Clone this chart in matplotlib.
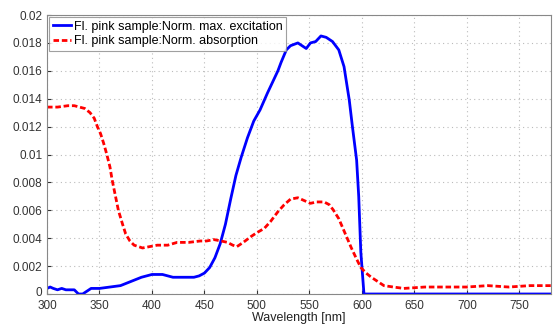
import matplotlib
matplotlib.use("Agg")
import matplotlib.pyplot as plt
import matplotlib.transforms as mtransforms
import numpy as np

plt.rcParams['font.family'] = ['Liberation Sans', 'DejaVu Sans']

# Excitation spectrum (wavelength in nm, normalised intensity)
exc_wl = [300, 303, 306, 310, 314, 318, 322, 326, 330, 334, 338, 342, 346, 350,
          360, 370, 380, 390, 400, 410, 420, 430, 440, 445, 450, 455, 460, 465,
          470, 475, 480, 485, 491, 497, 503, 510, 515, 520, 523, 528, 532, 539,
          547, 551, 556, 561, 566, 572, 578, 583, 588, 591, 595, 597, 599, 602,
          610, 650, 700, 750, 780]
exc_val = [0.0004, 0.0005, 0.0004, 0.0003, 0.0004, 0.0003, 0.0003, 0.0003, 0.0000,
           0.0000, 0.0002, 0.0004, 0.0004, 0.0004, 0.0005, 0.0006, 0.0009, 0.0012,
           0.0014, 0.0014, 0.0012, 0.0012, 0.0012, 0.0013, 0.0015, 0.0019, 0.0026,
           0.0036, 0.0050, 0.0068, 0.0085, 0.0098, 0.0112, 0.0124, 0.0132, 0.0144,
           0.0152, 0.0160, 0.0166, 0.0175, 0.0178, 0.0180, 0.0176, 0.0180, 0.0181,
           0.0185, 0.0184, 0.0181, 0.0175, 0.0163, 0.0139, 0.0120, 0.0096, 0.0070,
           0.0030, 0.0000, 0.0000, 0.0000, 0.0000, 0.0000, 0.0000]

# Absorption spectrum
abs_wl = [300, 310, 320, 326, 331, 336, 341, 345, 348, 351, 354, 357, 360, 362,
          365, 368, 372, 375, 379, 383, 387, 391, 398, 405, 415, 424, 435, 446,
          452, 459, 466, 472, 477, 481, 487, 494, 500, 507, 513, 520, 526, 532,
          539, 545, 551, 557, 564, 569, 573, 578, 582, 586, 590, 595, 599, 604,
          609, 615, 621, 630, 640, 660, 680, 700, 720, 740, 760, 780]
abs_val = [0.0134, 0.0134, 0.0135, 0.0135, 0.0134, 0.0133, 0.0130, 0.0126, 0.0120,
           0.0115, 0.0108, 0.0100, 0.0091, 0.0082, 0.0071, 0.0060, 0.0050, 0.0043,
           0.0038, 0.0035, 0.0034, 0.0033, 0.0034, 0.0035, 0.0035, 0.0037, 0.0037,
           0.0038, 0.0038, 0.0039, 0.0038, 0.0037, 0.0035, 0.0034, 0.0037, 0.0041,
           0.0044, 0.0047, 0.0052, 0.0059, 0.0064, 0.0068, 0.0069, 0.0067, 0.0065,
           0.0066, 0.0066, 0.0064, 0.0060, 0.0054, 0.0047, 0.0040, 0.0033, 0.0025,
           0.0019, 0.0015, 0.0012, 0.0009, 0.0006, 0.0005, 0.0004, 0.0005, 0.0005,
           0.0005, 0.0006, 0.0005, 0.0006, 0.0006]

x_ticks = [300, 350, 400, 450, 500, 550, 600, 650, 700, 750]
y_ticks = [0, 0.002, 0.004, 0.006, 0.008, 0.01, 0.012, 0.014, 0.016, 0.018, 0.02]
y_tick_labels = ['0', '0.002', '0.004', '0.006', '0.008', '0.01', '0.012',
                 '0.014', '0.016', '0.018', '0.02']

fig = plt.figure(figsize=(5.53, 3.24), dpi=100)
ax = fig.add_axes([0.085, 0.0926, 0.911, 0.861])

ax.plot(exc_wl, exc_val, color='#0000ff', lw=2.0,
        label='Fl. pink sample:Norm. max. excitation')
ax.plot(abs_wl, abs_val, color='#ff0000', lw=2.0, linestyle=(0, (2, 1)),
        label='Fl. pink sample:Norm. absorption')

ax.set_xlim(300, 780)
ax.set_ylim(0, 0.02)
ax.set_xticks(x_ticks)
ax.set_yticks(y_ticks)
ax.set_yticklabels(y_tick_labels)
ax.tick_params(direction='in', labelsize=8.5, colors='#333333', length=3)
ax.tick_params(axis='x', pad=4)
ax.grid(True, linestyle=(0, (1, 3)), color='#bbbbbb', lw=0.8)
for s in ax.spines.values():
    s.set_color('#888888')

# lift the bottom y label slightly so it clears the first x label
zero_lbl = ax.get_yticklabels()[0]
zero_lbl.set_transform(zero_lbl.get_transform() +
                       mtransforms.ScaledTranslation(0, 2 / 72, fig.dpi_scale_trans))

ax.set_xlabel('Wavelength [nm]', fontsize=9, color='#222222')
ax.xaxis.set_label_coords(0.5, -0.066)

leg = ax.legend(loc='upper left', fontsize=9, frameon=True, fancybox=False,
                borderaxespad=0.15, handlelength=1.5, handletextpad=0.2,
                borderpad=0.3, labelspacing=0.2)
leg.get_frame().set_edgecolor('#888888')
leg.get_frame().set_linewidth(0.8)

fig.savefig('out.png', dpi=100)
